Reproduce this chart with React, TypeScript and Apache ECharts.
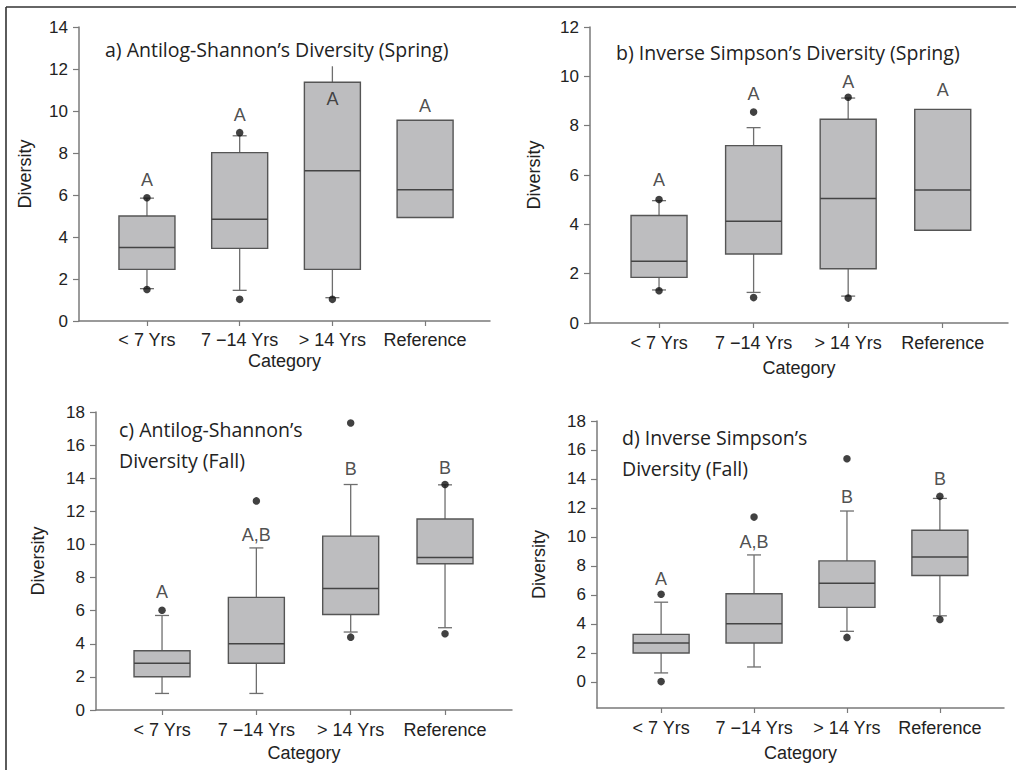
import React, { useEffect, useRef } from "react";
import * as echarts from "echarts";

// ---------- data ----------
const CATS = ["< 7 Yrs", "7 \u221214 Yrs", "> 14 Yrs", "Reference"];
const CAT_POS = [1, 2, 3, 4];

// a) Antilog-Shannon (Spring)
const aLow = [1.54, 1.46, 1.11, null];
const aQ1 = [2.46, 3.46, 2.46, 4.93];
const aMed = [3.5, 4.85, 7.15, 6.25];
const aQ3 = [5.0, 8.02, 11.37, 9.56];
const aHigh = [5.85, 8.82, 12.13, null];
const aHighCap = [true, true, false, false];
const aOutliers = [[1, 5.87], [1, 1.5], [2, 8.97], [2, 1.03], [3, 1.03]];
const aLetters = ["A", "A", "A", "A"];
const aLetterY = [6.7, 9.8, 10.58, 10.23];
const aTicks = [0, 2, 4, 6, 8, 10, 12, 14];

// b) Inverse Simpson (Spring)
const bLow = [1.34, 1.24, 1.09, null];
const bQ1 = [1.85, 2.8, 2.2, 3.76];
const bMed = [2.5, 4.12, 5.05, 5.39];
const bQ3 = [4.36, 7.19, 8.26, 8.66];
const bHigh = [4.96, 7.92, 9.12, null];
const bOutliers = [[1, 5.01], [1, 1.31], [2, 8.55], [2, 1.03], [3, 9.15], [3, 1.01]];
const bLetters = ["A", "A", "A", "A"];
const bLetterY = [5.78, 9.3, 9.77, 9.46];
const bTicks = [0, 2, 4, 6, 8, 10, 12];

// c) Antilog-Shannon (Fall)
const cLow = [1.0, 1.0, 4.71, 4.97];
const cQ1 = [2.01, 2.82, 5.77, 8.83];
const cMed = [2.82, 4.0, 7.34, 9.21];
const cQ3 = [3.58, 6.8, 10.5, 11.54];
const cHigh = [5.71, 9.79, 13.62, 13.6];
const cOutliers = [[1, 6.03], [2, 12.63], [3, 17.34], [3, 4.4], [4, 13.62], [4, 4.61]];
const cLetters = ["A", "A,B", "B", "B"];
const cLetterY = [7.14, 10.56, 14.58, 14.64];
const cTicks = [0, 2, 4, 6, 8, 10, 12, 14, 16, 18];

// d) Inverse Simpson (Fall)
const dLow = [0.62, 1.03, 3.49, 4.56];
const dQ1 = [1.99, 2.68, 5.14, 7.34];
const dMed = [2.68, 4.01, 6.81, 8.62];
const dQ3 = [3.28, 6.08, 8.35, 10.46];
const dHigh = [5.5, 8.76, 11.79, 12.66];
const dOutliers = [[1, 6.05], [1, 0.02], [2, 11.37], [3, 15.39], [3, 3.07], [4, 12.8], [4, 4.31]];
const dLetters = ["A", "A,B", "B", "B"];
const dLetterY = [7.1, 9.63, 12.77, 13.99];
const dTicks = [0, 2, 4, 6, 8, 10, 12, 14, 16, 18];

const TITLES = [
  "a) Antilog-Shannon\u2019s Diversity (Spring)",
  "b) Inverse Simpson\u2019s Diversity (Spring)",
  "c) Antilog-Shannon\u2019s\nDiversity (Fall)",
  "d) Inverse Simpson\u2019s\nDiversity (Fall)",
];

// ---------- styles ----------
const AX_FONT = "Liberation Sans";
const TITLE_FONT = "Open Sans";
const AXIS_COLOR = "#7a7a7a";
const TEXT_COLOR = "#222222";
const BOX_FILL = "#bdbdbf";
const BOX_STROKE = "#555555";
const WHISKER = "#6e6e6e";
const BOX_HALF = 28;
const CAP_HALF = 7;

const panels = [
  { low: aLow, q1: aQ1, med: aMed, q3: aQ3, high: aHigh, highCap: aHighCap, out: aOutliers, letters: aLetters, letterY: aLetterY, ticks: aTicks,
    grid: { left: 79, right: 526, top: 27, bottom: 449 }, xmin: 0.267, xmax: 4.7, ymin: 0, ymax: 14, yGap: 45, xLabelMargin: 10, xNameGap: 31,
    title: { left: 105, top: 33.5 } },
  { low: bLow, q1: bQ1, med: bMed, q3: bQ3, high: bHigh, highCap: null, out: bOutliers, letters: bLetters, letterY: bLetterY, ticks: bTicks,
    grid: { left: 590, right: 8, top: 27, bottom: 447 }, xmin: 0.27, xmax: 4.69, ymin: 0, ymax: 12, yGap: 47, xLabelMargin: 11, xNameGap: 36,
    title: { left: 616, top: 36.5 } },
  { low: cLow, q1: cQ1, med: cMed, q3: cQ3, high: cHigh, highCap: null, out: cOutliers, letters: cLetters, letterY: cLetterY, ticks: cTicks,
    grid: { left: 96, right: 504, top: 412, bottom: 60 }, xmin: 0.3, xmax: 4.71, ymin: 0, ymax: 18, yGap: 49, xLabelMargin: 11, xNameGap: 34,
    title: { left: 119, top: 413.5 } },
  { low: dLow, q1: dQ1, med: dMed, q3: dQ3, high: dHigh, highCap: null, out: dOutliers, letters: dLetters, letterY: dLetterY, ticks: dTicks,
    grid: { left: 597, right: 12, top: 421, bottom: 62 }, xmin: 0.31, xmax: 4.69, ymin: -1.8, ymax: 18, yGap: 49, xLabelMargin: 11, xNameGap: 36,
    title: { left: 622, top: 421.5 } },
];

function buildOption() {
  const grid: any[] = [];
  const xAxis: any[] = [];
  const yAxis: any[] = [];
  const series: any[] = [];
  const title: any[] = [];

  panels.forEach((p, i) => {
    grid.push({ ...p.grid, containLabel: false });
    xAxis.push({
      type: "value",
      gridIndex: i,
      min: p.xmin,
      max: p.xmax,
      name: "Category",
      nameLocation: "middle",
      nameGap: p.xNameGap,
      nameTextStyle: { fontFamily: AX_FONT, fontSize: 18, color: TEXT_COLOR },
      axisLine: { show: true, onZero: false, lineStyle: { color: AXIS_COLOR, width: 1.5 } },
      axisTick: { show: true, customValues: CAT_POS, length: 5, lineStyle: { color: AXIS_COLOR, width: 1.2 } },
      axisLabel: {
        customValues: CAT_POS,
        formatter: (v: number) => CATS[Math.round(v) - 1] || "",
        margin: p.xLabelMargin,
        fontFamily: AX_FONT,
        fontSize: 18,
        color: TEXT_COLOR,
      },
      splitLine: { show: false },
    });
    yAxis.push({
      type: "value",
      gridIndex: i,
      min: p.ymin,
      max: p.ymax,
      name: "Diversity",
      nameLocation: "middle",
      nameGap: p.yGap,
      nameTextStyle: { fontFamily: AX_FONT, fontSize: 18, color: TEXT_COLOR },
      axisLine: { show: true, onZero: false, lineStyle: { color: AXIS_COLOR, width: 1.5 } },
      axisTick: { show: true, customValues: p.ticks, length: 6, lineStyle: { color: AXIS_COLOR, width: 1.2 } },
      axisLabel: { customValues: p.ticks, margin: 11, fontFamily: AX_FONT, fontSize: 17, color: TEXT_COLOR },
      splitLine: { show: false },
    });

    const boxData = CAT_POS.map((x, k) => [
      x,
      p.low[k] == null ? "-" : p.low[k],
      p.q1[k],
      p.med[k],
      p.q3[k],
      p.high[k] == null ? "-" : p.high[k],
      p.highCap ? (p.highCap[k] ? 1 : 0) : 1,
    ]);

    series.push({
      type: "custom",
      xAxisIndex: i,
      yAxisIndex: i,
      encode: { x: 0, y: [2, 3, 4] },
      data: boxData,
      renderItem: (params: any, api: any) => {
        const x = api.value(0);
        const low = api.value(1);
        const q1 = api.value(2);
        const med = api.value(3);
        const q3 = api.value(4);
        const high = api.value(5);
        const cap = api.value(6);
        const pt = (v: number) => api.coord([x, v]);
        const cx = pt(q1)[0];
        const yq1 = pt(q1)[1];
        const yq3 = pt(q3)[1];
        const ymed = pt(med)[1];
        const children: any[] = [];
        const wStyle = { stroke: WHISKER, lineWidth: 1.3 };
        if (!isNaN(high)) {
          const yh = pt(high)[1];
          children.push({ type: "line", shape: { x1: cx, y1: yq3, x2: cx, y2: yh }, style: wStyle });
          if (cap) children.push({ type: "line", shape: { x1: cx - CAP_HALF, y1: yh, x2: cx + CAP_HALF, y2: yh }, style: wStyle });
        }
        if (!isNaN(low)) {
          const yl = pt(low)[1];
          children.push({ type: "line", shape: { x1: cx, y1: yq1, x2: cx, y2: yl }, style: wStyle });
          children.push({ type: "line", shape: { x1: cx - CAP_HALF, y1: yl, x2: cx + CAP_HALF, y2: yl }, style: wStyle });
        }
        children.push({
          type: "rect",
          shape: { x: cx - BOX_HALF, y: yq3, width: BOX_HALF * 2, height: yq1 - yq3 },
          style: { fill: BOX_FILL, stroke: BOX_STROKE, lineWidth: 1.4 },
        });
        children.push({
          type: "line",
          shape: { x1: cx - BOX_HALF, y1: ymed, x2: cx + BOX_HALF, y2: ymed },
          style: { stroke: "#444444", lineWidth: 1.5 },
        });
        return { type: "group", children };
      },
      z: 2,
    });

    series.push({
      type: "scatter",
      xAxisIndex: i,
      yAxisIndex: i,
      data: p.out,
      symbol: "circle",
      symbolSize: 7.5,
      itemStyle: { color: "#111111" },
      z: 3,
    });

    series.push({
      type: "scatter",
      xAxisIndex: i,
      yAxisIndex: i,
      data: CAT_POS.map((x, k) => [x, p.letterY[k], p.letters[k]]),
      symbol: "circle",
      symbolSize: 1,
      itemStyle: { color: "rgba(0,0,0,0)" },
      label: {
        show: true,
        position: "inside",
        formatter: (d: any) => d.data[2],
        fontFamily: AX_FONT,
        fontSize: 18,
        color: TEXT_COLOR,
      },
      z: 4,
    });

    title.push({
      text: TITLES[i],
      left: p.title.left,
      top: p.title.top,
      padding: 0,
      textStyle: {
        fontFamily: TITLE_FONT,
        fontSize: 19.5,
        fontWeight: "normal",
        color: TEXT_COLOR,
        lineHeight: 31,
      },
    });
  });

  return {
    animation: false,
    backgroundColor: "#ffffff",
    title,
    grid,
    xAxis,
    yAxis,
    series,
    graphic: [
      { type: "line", shape: { x1: 6, y1: 7, x2: 1016, y2: 7 }, style: { stroke: "#333333", lineWidth: 1.6 } },
      { type: "line", shape: { x1: 6, y1: 7, x2: 6, y2: 770 }, style: { stroke: "#333333", lineWidth: 1.6 } },
    ],
  };
}

export default function App() {
  const ref = useRef<HTMLDivElement>(null);
  useEffect(() => {
    if (!ref.current) return;
    const chart = echarts.init(ref.current, undefined, { renderer: "svg" });
    chart.setOption(buildOption() as any);
    return () => chart.dispose();
  }, []);
  return (
    <div
      ref={ref}
      style={{ position: "absolute", left: 0, top: 0, width: 1016, height: 770, background: "#fff" }}
    />
  );
}
